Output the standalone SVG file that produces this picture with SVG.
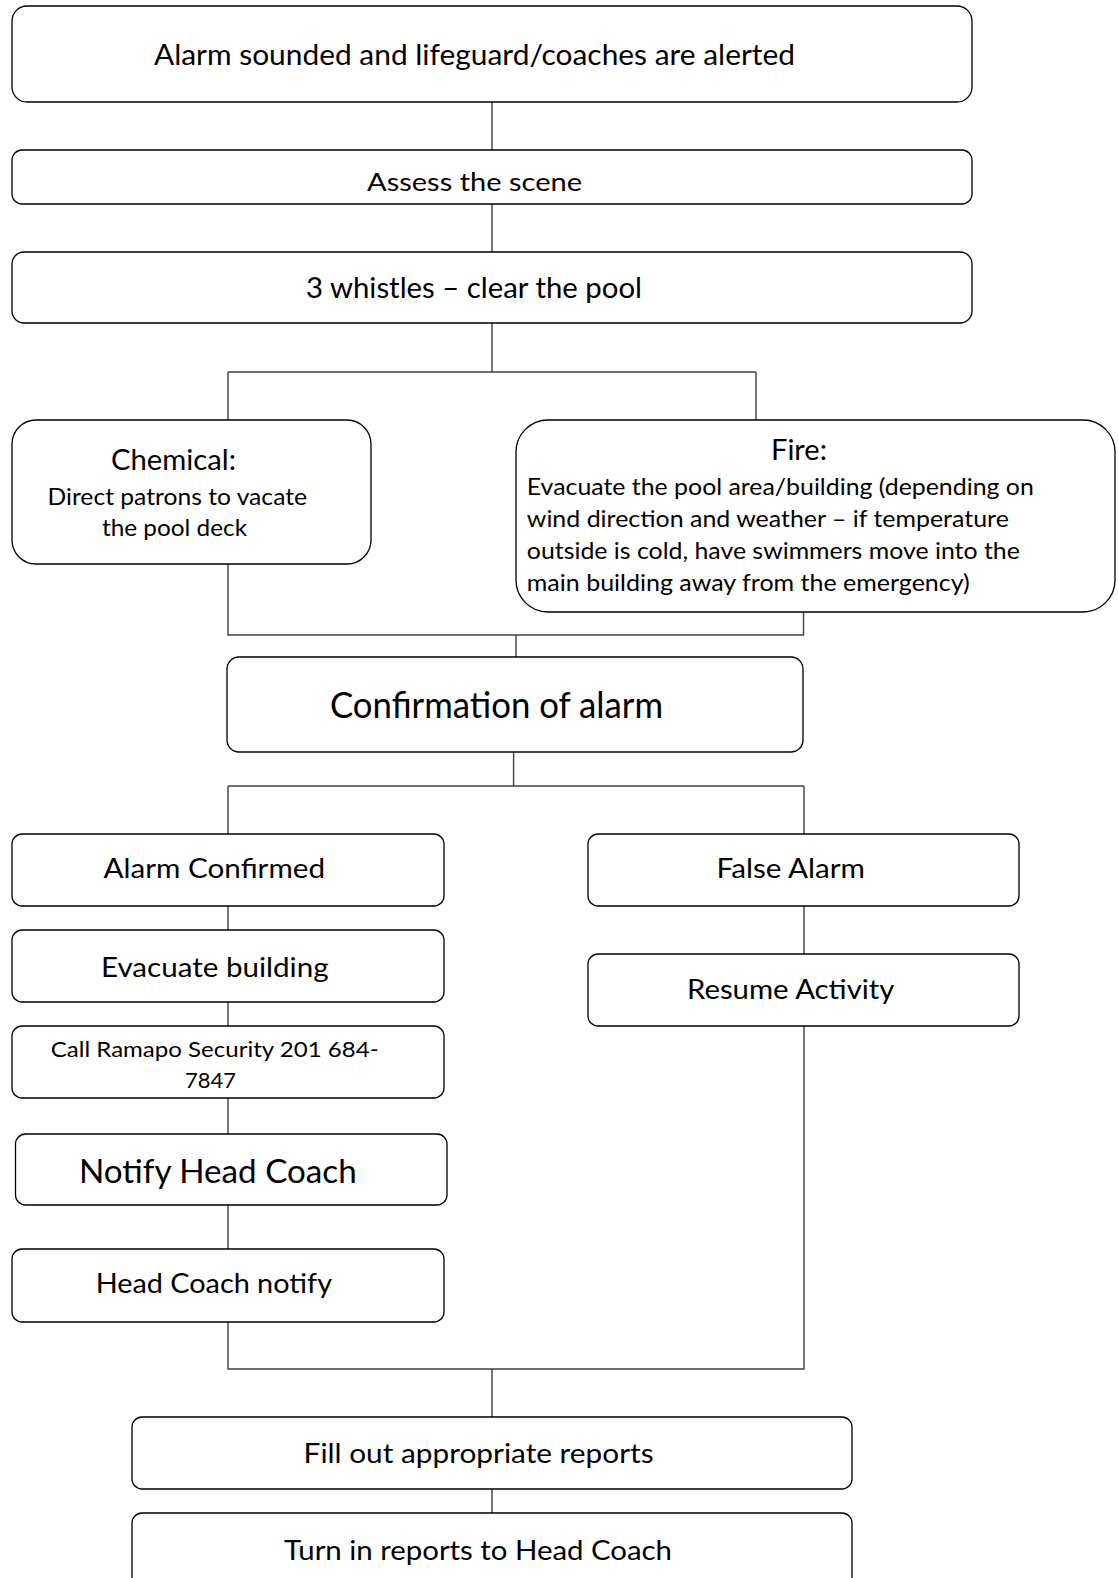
<svg xmlns="http://www.w3.org/2000/svg" width="1118" height="1578" viewBox="0 0 1118 1578">
<style>
.box{fill:#ffffff;stroke:#000000;stroke-width:1.3}
.con{fill:none;stroke:#404040;stroke-width:1.4}
text{font-family:Lato,"Liberation Sans",sans-serif;fill:#000000}
.c{text-anchor:start}
</style>
<rect x="0" y="0" width="1118" height="1578" fill="#ffffff"/>
<g id="connectors">
<path class="con" d="M492 102V150M492 204V252M492 323V372M228 372H756M228 372V420M756 372V420"/>
<path class="con" d="M228 564V635H803.5V612M516 635V659"/>
<path class="con" d="M513.6 752V786M228 786H804M228 786V834M804 786V834"/>
<path class="con" d="M228 906V930M228 1002V1026M228 1098V1137M228 1203V1249M228 1322V1369H804V1026M804 906V954"/>
<path class="con" d="M492 1369V1417M492 1489V1513"/>
</g>
<g id="n1"><rect class="box" x="12" y="6" width="960" height="96" rx="15"/><text x="154" y="65" font-size="28" textLength="641" lengthAdjust="spacingAndGlyphs">Alarm sounded and lifeguard/coaches are alerted</text></g>
<g id="n2"><rect class="box" x="12" y="150" width="960" height="54" rx="10"/><text x="367" y="190.7" font-size="25" textLength="215" lengthAdjust="spacingAndGlyphs">Assess the scene</text></g>
<g id="n3"><rect class="box" x="12" y="252" width="960" height="71" rx="12"/><text x="306" y="298" font-size="28" textLength="336" lengthAdjust="spacingAndGlyphs">3 whistles – clear the pool</text></g>
<g id="n4"><rect class="box" x="12" y="420" width="359" height="144" rx="24"/>
<text x="111" y="470" font-size="28" textLength="125" lengthAdjust="spacingAndGlyphs">Chemical:</text>
<text x="47.5" y="505" font-size="23" textLength="259.5" lengthAdjust="spacingAndGlyphs">Direct patrons to vacate</text>
<text x="102" y="536" font-size="23" textLength="145" lengthAdjust="spacingAndGlyphs">the pool deck</text></g>
<g id="n5"><rect class="box" x="516" y="420" width="599" height="192" rx="32"/>
<text x="771" y="460" font-size="28" textLength="56" lengthAdjust="spacingAndGlyphs">Fire:</text>
<text x="526.8" y="495" font-size="23" textLength="507" lengthAdjust="spacingAndGlyphs">Evacuate the pool area/building (depending on</text>
<text x="526.8" y="527" font-size="23" textLength="482" lengthAdjust="spacingAndGlyphs">wind direction and weather – if temperature</text>
<text x="526.8" y="559" font-size="23" textLength="493" lengthAdjust="spacingAndGlyphs">outside is cold, have swimmers move into the</text>
<text x="526.8" y="591" font-size="23" textLength="443" lengthAdjust="spacingAndGlyphs">main building away from the emergency)</text></g>
<g id="n6"><rect class="box" x="227" y="657" width="576" height="95" rx="12"/><text x="330" y="718" font-size="37" textLength="333" lengthAdjust="spacingAndGlyphs">Confirmation of alarm</text></g>
<g id="n7"><rect class="box" x="12" y="834" width="432" height="72" rx="10"/><text x="103.6" y="878" font-size="26" textLength="221.4" lengthAdjust="spacingAndGlyphs">Alarm Confirmed</text></g>
<g id="n8"><rect class="box" x="588" y="834" width="431" height="72" rx="10"/><text x="716.6" y="878" font-size="26" textLength="148.4" lengthAdjust="spacingAndGlyphs">False Alarm</text></g>
<g id="n9"><rect class="box" x="12" y="930" width="432" height="72" rx="10"/><text x="101" y="976.7" font-size="26" textLength="227.6" lengthAdjust="spacingAndGlyphs">Evacuate building</text></g>
<g id="n10"><rect class="box" x="588" y="954" width="431" height="72" rx="10"/><text x="687" y="999" font-size="26" textLength="207.5" lengthAdjust="spacingAndGlyphs">Resume Activity</text></g>
<g id="n11"><rect class="box" x="12" y="1026" width="432" height="72" rx="10"/>
<text x="50.7" y="1056.7" font-size="22" textLength="328" lengthAdjust="spacingAndGlyphs">Call Ramapo Security 201 684-</text>
<text x="185" y="1088" font-size="22" textLength="51" lengthAdjust="spacingAndGlyphs">7847</text></g>
<g id="n12"><rect class="box" x="15.5" y="1134" width="431.5" height="71" rx="10"/><text x="79" y="1183.3" font-size="32" textLength="277.7" lengthAdjust="spacingAndGlyphs">Notify Head Coach</text></g>
<g id="n13"><rect class="box" x="12" y="1249" width="432" height="73" rx="10"/><text x="95.7" y="1293" font-size="26" textLength="236.3" lengthAdjust="spacingAndGlyphs">Head Coach notify</text></g>
<g id="n14"><rect class="box" x="132" y="1417" width="720" height="72" rx="10"/><text x="303.6" y="1463" font-size="26" textLength="350" lengthAdjust="spacingAndGlyphs">Fill out appropriate reports</text></g>
<g id="n15"><rect class="box" x="132" y="1513" width="720" height="80" rx="10"/><text x="284" y="1560" font-size="26" textLength="388" lengthAdjust="spacingAndGlyphs">Turn in reports to Head Coach</text></g>
</svg>
